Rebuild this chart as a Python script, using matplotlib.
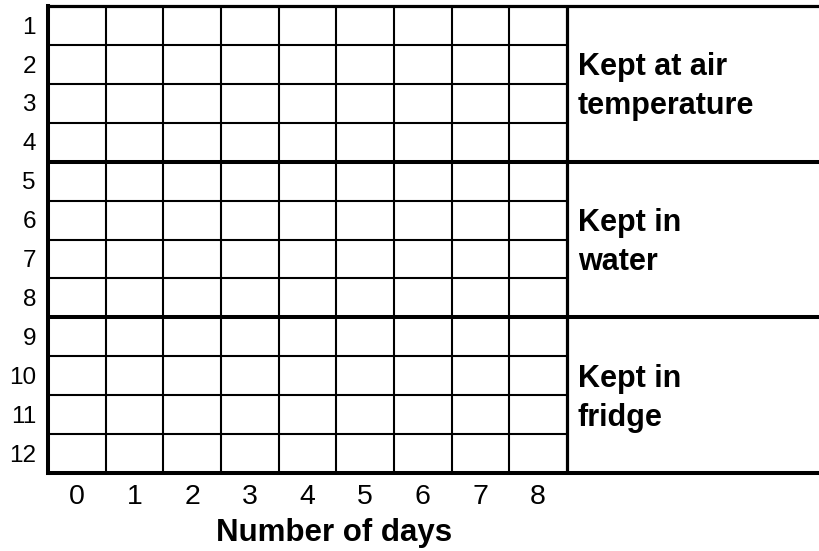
import matplotlib
matplotlib.use("Agg")
import matplotlib.pyplot as plt

plt.rcParams['font.family'] = ['Liberation Sans', 'DejaVu Sans']

# table contents
row_labels = [str(i) for i in range(1, 13)]
day_labels = [str(d) for d in range(0, 9)]
group_labels = [["Kept at air", "temperature"],
                ["Kept in", "water"],
                ["Kept in", "fridge"]]
rows_per_group = 4

n_rows = len(row_labels)
n_cols = len(day_labels)

W, H = 820, 551
fig = plt.figure(figsize=(W / 100, H / 100), dpi=100)
# axes covers just the grid part of the table (pixels 48..567 x 6..473)
ax = fig.add_axes([48 / W, 1 - 473 / H, (567 - 48) / W, (473 - 6) / H])
ax.set_xlim(0, n_cols)
ax.set_ylim(n_rows, 0)
ax.axis('off')

x_end = n_cols + 5  # run past right edge of figure
thin = 1.5
thick = 2.9

# thin grid lines
for r in range(1, n_rows):
    if r % rows_per_group != 0:
        ax.plot([0, n_cols], [r, r], color='black', lw=thin, clip_on=False,
                solid_capstyle='butt')
for c in range(1, n_cols):
    ax.plot([c, c], [0, n_rows], color='black', lw=thin, clip_on=False,
            solid_capstyle='butt')

# group borders running across to the label column
for r in range(0, n_rows + 1, rows_per_group):
    lw = 2.3 if r == 0 else thick
    ax.plot([-0.03, x_end], [r, r], color='black', lw=lw, clip_on=False,
            solid_capstyle='butt')

# left edge and label column divider
ax.plot([0, 0], [0, n_rows], color='black', lw=thick, clip_on=False,
        solid_capstyle='projecting')
ax.plot([n_cols, n_cols], [0, n_rows], color='black', lw=2.3, clip_on=False,
        solid_capstyle='butt')

# row numbers
for i, lab in enumerate(row_labels):
    ax.text(-0.21, i + 0.5 + 0.21, lab, ha='right', va='baseline',
            fontsize=17.5, clip_on=False)

# day numbers
for j, lab in enumerate(day_labels):
    ax.text(j + 0.5, n_rows + 0.8, lab, ha='center', va='baseline',
            fontsize=20.5, clip_on=False)

ax.text(4.96, n_rows + 1.75, "Number of days", ha='center', va='baseline',
        fontsize=22.5, fontweight='bold', clip_on=False)

# group labels in the right column
for g, lines in enumerate(group_labels):
    for k, line in enumerate(lines):
        y = g * rows_per_group + 1.5 + k + 0.28
        ax.text(n_cols + 0.19, y, line, ha='left', va='baseline',
                fontsize=22, fontweight='bold', clip_on=False)

fig.savefig('out.png', dpi=100)
